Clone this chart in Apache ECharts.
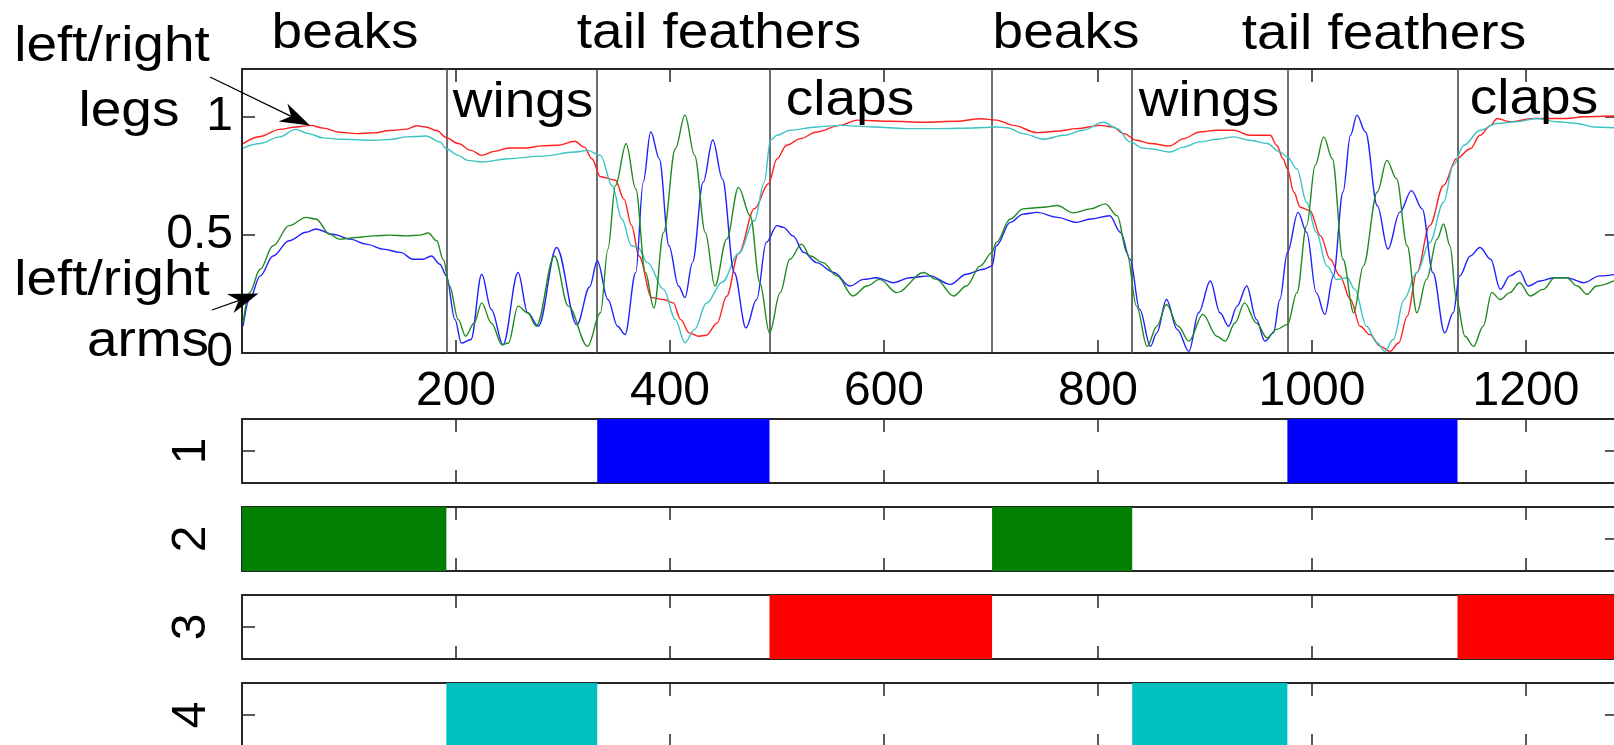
<!DOCTYPE html>
<html><head><meta charset="utf-8">
<script src="https://cdn.jsdelivr.net/npm/echarts@6.0.0/dist/echarts.min.js"></script>
<style>html,body{margin:0;padding:0;background:#fff;overflow:hidden}#c{width:1614px;height:745px}</style>
</head><body><div id="c"></div>
<script>
// ---------- data ----------
const xTicks = [200, 400, 600, 800, 1000, 1200];
const yTicks = [0, 0.5, 1];
const segBounds = [0, 191, 332, 493, 701, 832, 977, 1136, 1286];
const segNames = ['beaks', 'wings', 'tail feathers', 'claps', 'beaks', 'wings', 'tail feathers', 'claps'];
const segClass = [2, 4, 1, 3, 2, 4, 1, 3];
const stripNames = ['1', '2', '3', '4'];

const legRed = [[1,0.885],[17,0.915],[35,0.945],[51,0.955],[64,0.962],[76,0.95],[91,0.933],[107,0.927],[123,0.93],[138,0.94],[154,0.946],[163,0.96],[172,0.955],[182,0.94],[191,0.91],[202,0.885],[214,0.856],[224,0.835],[236,0.852],[249,0.866],[265,0.866],[280,0.875],[296,0.878],[311,0.895],[320,0.87],[327,0.821],[335,0.745],[349,0.73],[357,0.65],[364,0.54],[371,0.41],[383,0.234],[394,0.226],[403,0.212],[410,0.141],[418,0.085],[427,0.071],[434,0.075],[444,0.127],[453,0.24],[464,0.42],[479,0.61],[492,0.715],[500,0.82],[509,0.878],[522,0.906],[537,0.934],[559,0.962],[575,0.984],[606,0.979],[637,0.975],[668,0.979],[690,0.99],[705,0.984],[721,0.962],[743,0.931],[761,0.937],[780,0.948],[802,0.962],[814,0.955],[824,0.927],[836,0.899],[849,0.885],[867,0.875],[880,0.906],[895,0.934],[911,0.941],[927,0.941],[942,0.92],[961,0.92],[967,0.878],[973,0.821],[977,0.778],[983,0.68],[989,0.616],[998,0.602],[1008,0.495],[1017,0.396],[1026,0.326],[1036,0.226],[1045,0.113],[1054,0.078],[1064,0.028],[1073,0.007],[1081,0.042],[1089,0.156],[1098,0.34],[1110,0.538],[1123,0.708],[1135,0.821],[1148,0.863],[1157,0.92],[1167,0.962],[1173,0.991],[1185,0.977],[1207,0.991],[1238,0.991],[1254,0.998],[1285,1.002]];

const legCyan = [[1,0.866],[17,0.885],[35,0.913],[50,0.945],[62,0.927],[76,0.909],[91,0.903],[123,0.899],[138,0.902],[154,0.913],[172,0.917],[185,0.892],[191,0.863],[202,0.835],[211,0.814],[224,0.807],[249,0.821],[280,0.832],[311,0.849],[323,0.856],[335,0.835],[346,0.707],[355,0.566],[364,0.453],[370,0.446],[379,0.382],[394,0.269],[405,0.141],[414,0.043],[423,0.1],[434,0.21],[449,0.3],[464,0.42],[479,0.56],[488,0.72],[494,0.9],[500,0.92],[512,0.941],[537,0.955],[559,0.962],[590,0.955],[621,0.948],[652,0.948],[684,0.951],[705,0.955],[715,0.952],[730,0.927],[749,0.903],[768,0.92],[786,0.941],[805,0.975],[818,0.948],[830,0.892],[842,0.866],[849,0.863],[867,0.849],[880,0.87],[895,0.892],[911,0.903],[927,0.913],[942,0.899],[958,0.885],[970,0.849],[977,0.828],[986,0.778],[995,0.637],[1004,0.51],[1014,0.368],[1023,0.311],[1033,0.318],[1040,0.269],[1051,0.113],[1061,0.042],[1068,0.007],[1076,0.057],[1086,0.226],[1098,0.34],[1110,0.467],[1123,0.637],[1132,0.793],[1142,0.878],[1157,0.941],[1173,0.97],[1191,0.977],[1210,0.991],[1229,0.977],[1248,0.97],[1263,0.955],[1285,0.951]];

const armBlue = [[1,0.113],[7,0.226],[17,0.326],[29,0.41],[44,0.474],[60,0.51],[69,0.524],[85,0.502],[101,0.481],[116,0.46],[132,0.439],[148,0.425],[160,0.396],[169,0.396],[177,0.41],[185,0.375],[191,0.326],[199,0.142],[205,0.042],[214,0.057],[224,0.333],[233,0.184],[244,0.035],[258,0.34],[267,0.17],[277,0.113],[294,0.446],[313,0.12],[325,0.28],[332,0.39],[342,0.226],[351,0.113],[358,0.078],[368,0.34],[375,0.722],[382,0.935],[390,0.821],[399,0.453],[408,0.283],[414,0.234],[421,0.382],[431,0.722],[440,0.9],[449,0.736],[460,0.34],[471,0.106],[481,0.226],[490,0.467],[500,0.538],[506,0.531],[515,0.495],[525,0.425],[537,0.382],[553,0.34],[568,0.283],[581,0.311],[593,0.318],[609,0.297],[624,0.318],[643,0.326],[662,0.29],[677,0.333],[693,0.354],[701,0.368],[705,0.453],[718,0.552],[730,0.587],[743,0.594],[762,0.573],[780,0.552],[793,0.566],[811,0.58],[821,0.51],[830,0.396],[839,0.184],[849,0.028],[855,0.085],[864,0.226],[874,0.1],[885,0.007],[894,0.17],[905,0.304],[914,0.17],[922,0.113],[930,0.198],[939,0.283],[948,0.142],[956,0.05],[964,0.085],[970,0.226],[977,0.425],[987,0.594],[995,0.51],[1004,0.255],[1012,0.163],[1020,0.326],[1029,0.68],[1036,0.92],[1042,1.005],[1050,0.934],[1061,0.623],[1071,0.439],[1082,0.594],[1093,0.686],[1103,0.609],[1113,0.34],[1124,0.085],[1132,0.17],[1138,0.326],[1148,0.41],[1157,0.446],[1167,0.396],[1176,0.269],[1185,0.326],[1194,0.347],[1202,0.283],[1213,0.304],[1226,0.318],[1238,0.318],[1254,0.297],[1269,0.326],[1285,0.333]];

const armGreen = [[1,0.127],[7,0.255],[17,0.354],[29,0.453],[44,0.538],[60,0.573],[69,0.566],[82,0.502],[91,0.481],[107,0.488],[123,0.495],[138,0.498],[154,0.495],[166,0.498],[174,0.507],[182,0.474],[188,0.396],[194,0.283],[202,0.142],[209,0.071],[217,0.127],[224,0.212],[233,0.127],[243,0.035],[249,0.042],[258,0.198],[267,0.17],[275,0.113],[292,0.41],[305,0.198],[323,0.028],[335,0.17],[342,0.439],[349,0.707],[359,0.884],[368,0.693],[377,0.34],[385,0.19],[394,0.509],[405,0.863],[414,1.005],[423,0.835],[433,0.509],[442,0.283],[453,0.481],[464,0.7],[475,0.58],[484,0.297],[493,0.085],[503,0.255],[512,0.396],[523,0.46],[531,0.41],[543,0.382],[556,0.326],[571,0.241],[584,0.283],[596,0.311],[612,0.255],[637,0.34],[649,0.311],[665,0.241],[677,0.283],[690,0.368],[701,0.425],[705,0.467],[718,0.566],[730,0.609],[749,0.616],[762,0.623],[777,0.592],[793,0.609],[807,0.63],[818,0.58],[827,0.425],[836,0.198],[846,0.028],[855,0.113],[864,0.205],[875,0.113],[885,0.05],[898,0.163],[911,0.071],[919,0.05],[928,0.127],[937,0.212],[948,0.127],[958,0.064],[967,0.1],[977,0.12],[986,0.255],[995,0.538],[1003,0.793],[1011,0.913],[1019,0.821],[1029,0.396],[1039,0.17],[1048,0.368],[1061,0.68],[1070,0.814],[1079,0.736],[1089,0.453],[1098,0.17],[1107,0.311],[1117,0.481],[1123,0.545],[1129,0.453],[1135,0.226],[1143,0.071],[1151,0.028],[1160,0.113],[1168,0.255],[1176,0.226],[1185,0.255],[1194,0.297],[1204,0.241],[1216,0.269],[1227,0.318],[1238,0.318],[1248,0.283],[1257,0.248],[1266,0.283],[1285,0.311]];

// ---------- styling / layout ----------
const FONT = 'Liberation Sans';
const AX = '#262626';
const classColors = {1: '#0000ff', 2: '#007f00', 3: '#ff0000', 4: '#00bfbf'};
const lineColors = {red: '#ff2020', cyan: '#3cc4c4', blue: '#2020ff', green: '#1f8a1f'};
const XMAX = segBounds[segBounds.length - 1];
const GL = 242, GW = 1376;
const stripTops = [419, 507, 595, 683];
const stripH = 64;

const chart = echarts.init(document.getElementById('c'), null, {renderer: 'canvas'});

const tickStyle = {color: AX, width: 1.5};
const lineStyleAx = {color: AX, width: 2};

function xAx(grid, pos, labels) {
  return {
    gridIndex: grid, type: 'value', min: 0, max: XMAX, interval: 200, position: pos,
    axisLine: {show: true, onZero: false, lineStyle: lineStyleAx},
    axisTick: {show: true, inside: true, length: 13, lineStyle: tickStyle},
    axisLabel: labels ? {
      show: true, margin: 15, fontSize: 48, fontFamily: FONT, color: '#000',
      formatter: v => xTicks.includes(v) ? String(v) : ''
    } : {show: false},
    splitLine: {show: false}
  };
}
function yAx(grid, pos, min, max, interval, labels) {
  return {
    gridIndex: grid, type: 'value', min, max, interval, position: pos,
    axisLine: {show: true, onZero: false, lineStyle: lineStyleAx},
    axisTick: {show: true, inside: true, length: 13, lineStyle: tickStyle},
    axisLabel: labels ? {
      show: true, margin: 9, fontSize: 48, fontFamily: FONT, color: '#000',
      formatter: v => yTicks.some(t => Math.abs(t - v) < 1e-9) ? String(v) : ''
    } : {show: false},
    splitLine: {show: false}
  };
}

function gridAt(top, height) {
  return {left: GL, width: GW, top, height, containLabel: false, outerBoundsMode: 'none'};
}
const grids = [gridAt(69, 284)];
const xAxes = [xAx(0, 'bottom', true), xAx(0, 'top', false)];
const yAxes = [yAx(0, 'left', 0, 1.2, 0.5, true), yAx(0, 'right', 0, 1.2, 0.5, false)];
stripTops.forEach((t, k) => {
  grids.push(gridAt(t, stripH));
  xAxes.push(xAx(k + 1, 'bottom', false), xAx(k + 1, 'top', false));
  yAxes.push(yAx(k + 1, 'left', 0, 2, 1, false), yAx(k + 1, 'right', 0, 2, 1, false));
});

function lineSeries(name, data, color, withMarks) {
  const s = {
    name, type: 'line', xAxisIndex: 0, yAxisIndex: 0, data, showSymbol: false,
    smooth: 0.35, smoothMonotone: 'x', silent: true, z: 3,
    lineStyle: {color, width: 1.4}, itemStyle: {color}
  };
  if (withMarks) {
    s.markLine = {
      silent: true, symbol: ['none', 'none'], animation: false,
      label: {show: false}, z: 1,
      lineStyle: {color: '#4a4a4a', width: 1.6, type: 'solid'},
      data: segBounds.slice(1, -1).map(v => ({xAxis: v}))
    };
  }
  return s;
}

const series = [
  lineSeries('legs left', legRed, lineColors.red, true),
  lineSeries('legs right', legCyan, lineColors.cyan, false),
  lineSeries('arms left', armBlue, lineColors.blue, false),
  lineSeries('arms right', armGreen, lineColors.green, false)
];

[1, 2, 3, 4].forEach((cls, k) => {
  const data = [];
  segClass.forEach((c, i) => { if (c === cls) data.push([segBounds[i], segBounds[i + 1]]); });
  const color = classColors[cls];
  series.push({
    type: 'custom', xAxisIndex: 2 + 2 * k, yAxisIndex: 2 + 2 * k, data, clip: true, silent: true, z: 5,
    encode: {x: [0, 1]},
    renderItem: (params, api) => {
      const p0 = api.coord([api.value(0), 0]);
      const p1 = api.coord([api.value(1), 2]);
      return {type: 'rect', shape: {x: p0[0], y: p1[1], width: p1[0] - p0[0], height: p0[1] - p1[1]},
              style: {fill: color}};
    }
  });
});

// ---------- annotations ----------
const segLabelPos = [[345, 34], [523, 103], [719, 34], [850, 101], [1066, 34], [1209, 102], [1384, 35], [1534, 100]];
const sideTexts = ['left/right', 'legs', 'left/right', 'arms'];
const sideTextPos = [[112, 47], [129, 112], [112, 281], [148, 342]];
const arrows = [[[210, 77], [310, 125.5]], [[212, 310], [258.5, 293.5]]];

function txt(text, cx, cy, rot) {
  return {
    type: 'text', x: cx, y: cy, scaleX: rot ? 1 : 1.1, rotation: rot || 0, z: 100, silent: true,
    style: {text, x: 0, y: 0, fontSize: rot ? 48 : 50, fontFamily: FONT, fill: '#000',
            align: 'center', verticalAlign: 'middle', textAlign: 'center', textVerticalAlign: 'middle'}
  };
}
const graphic = [];
segNames.forEach((n, i) => graphic.push(txt(n, segLabelPos[i][0], segLabelPos[i][1])));
sideTexts.forEach((n, i) => graphic.push(txt(n, sideTextPos[i][0], sideTextPos[i][1])));
stripNames.forEach((n, k) => graphic.push(txt(n, 192, stripTops[k] + stripH / 2, Math.PI / 2)));
arrows.forEach(([s, t]) => {
  const dx = t[0] - s[0], dy = t[1] - s[1], L = Math.hypot(dx, dy);
  const ux = dx / L, uy = dy / L, nx = -uy, ny = ux;
  const len = 30, hw = 10, notch = 9;
  const back = [t[0] - ux * len, t[1] - uy * len];
  graphic.push({type: 'line', z: 99, silent: true,
    shape: {x1: s[0], y1: s[1], x2: t[0] - ux * 10, y2: t[1] - uy * 10},
    style: {stroke: '#000', lineWidth: 1.3}});
  graphic.push({type: 'polygon', z: 99, silent: true,
    shape: {points: [t, [back[0] + nx * hw, back[1] + ny * hw],
                     [t[0] - ux * (len - notch), t[1] - uy * (len - notch)],
                     [back[0] - nx * hw, back[1] - ny * hw]]},
    style: {fill: '#000'}});
});

chart.setOption({
  animation: false, backgroundColor: '#ffffff',
  grid: grids, xAxis: xAxes, yAxis: yAxes, series, graphic
});
</script></body></html>
